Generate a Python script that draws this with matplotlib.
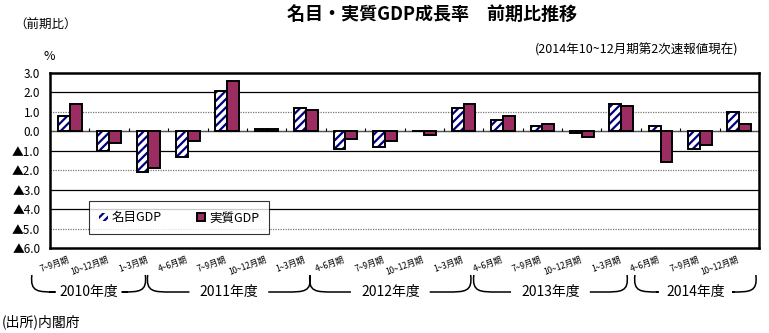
import numpy as np
import matplotlib
matplotlib.use("Agg")
import matplotlib.pyplot as plt
from matplotlib.path import Path
from matplotlib.patches import PathPatch
import matplotlib.transforms as mtransforms

plt.rcParams['font.family'] = ['Noto Sans CJK JP', 'DejaVu Sans']
plt.rcParams['hatch.linewidth'] = 1.6

# quarters (fiscal year 2010 Q3 .. 2014 Q4)
quarters = ["7~9月期", "10~12月期", "1~3月期",
            "4~6月期", "7~9月期", "10~12月期", "1~3月期",
            "4~6月期", "7~9月期", "10~12月期", "1~3月期",
            "4~6月期", "7~9月期", "10~12月期", "1~3月期",
            "4~6月期", "7~9月期", "10~12月期"]
nominal = [0.8, -1.0, -2.1, -1.3, 2.1, 0.1, 1.2, -0.9, -0.8, 0.0,
           1.2, 0.6, 0.3, -0.1, 1.4, 0.3, -0.9, 1.0]
real = [1.4, -0.6, -1.9, -0.5, 2.6, 0.1, 1.1, -0.4, -0.5, -0.2,
        1.4, 0.8, 0.4, -0.3, 1.3, -1.6, -0.7, 0.4]
fiscal_years = ["2010年度", "2011年度", "2012年度", "2013年度", "2014年度"]
yticks = [3, 2, 1, 0, -1, -2, -3, -4, -5, -6]

def ylab(v):
    if v < 0:
        return "▲%.1f" % abs(v)
    return "%.1f" % v

fig = plt.figure(figsize=(7.69, 3.33), dpi=100)
ax = fig.add_axes([50/769, 1-248/333, 709/769, 175/333])

x = np.arange(len(quarters))
w = 0.3
ax.bar(x - w/2, nominal, width=w, color='white', edgecolor='#000080',
       hatch='////', linewidth=0, label='名目GDP', zorder=3)
ax.bar(x - w/2, nominal, width=w, color='none', edgecolor='black',
       linewidth=1.4, zorder=4)
ax.bar(x + w/2, real, width=w, color='#9b2d63', edgecolor='black',
       linewidth=1.4, label='実質GDP', zorder=3)

ax.set_xlim(-0.5, len(quarters) - 0.5)
ax.set_ylim(-6, 3)

# gridlines
for v in yticks[1:-1]:
    if v in (2, -1, -3, -4):
        ax.axhline(v, color='black', lw=0.9, zorder=1)
    else:
        ax.axhline(v, color='#777777', lw=0.9, ls=(0, (1, 1)), zorder=1)
ax.axhline(0, color='#555555', lw=1.0, zorder=2)
# category ticks on the zero line
ax.vlines(x[1:] - 0.5, 0, 0.18, color='black', lw=0.8, zorder=2)

for s in ax.spines.values():
    s.set_linewidth(1.8)
ax.set_yticks(yticks)
ax.set_yticklabels([ylab(v) for v in yticks], fontsize=8.5)
ax.tick_params(axis='y', length=0, pad=7)
ax.set_xticks([])

# rotated quarter labels
lab_tr = mtransforms.blended_transform_factory(ax.transData, fig.transFigure)
for i, q in enumerate(quarters):
    ax.text(i + 0.02, 1 - 263/333, q, transform=lab_tr, fontsize=6,
            rotation=20, rotation_mode='anchor', ha='right', va='bottom')

# fiscal year brackets
spans = [(-0.96, 1.92), (1.98, 6.1), (6.1, 10.18), (10.26, 14.15), (14.35, 17.42)]
y_top = 1 - 275/333
y_bot = 1 - 292/333
for (x0, x1), fy in zip(spans, fiscal_years):
    xm = (x0 + x1) / 2
    verts = [(x0, y_top), (x0 - 0.05, y_bot), (x0 + 0.15, y_bot), (x0 + 0.6, y_bot),
             (xm - 1.0, y_bot)]
    codes = [Path.MOVETO, Path.CURVE4, Path.CURVE4, Path.CURVE4, Path.LINETO]
    fig.add_artist(PathPatch(Path(verts, codes), transform=lab_tr, fill=False,
                             lw=1.1, color='black', clip_on=False))
    verts = [(x1, y_top), (x1 + 0.05, y_bot), (x1 - 0.15, y_bot), (x1 - 0.6, y_bot),
             (xm + 1.0, y_bot)]
    fig.add_artist(PathPatch(Path(verts, codes), transform=lab_tr, fill=False,
                             lw=1.1, color='black', clip_on=False))
    ax.text(xm, y_bot, fy, transform=lab_tr, fontsize=10, ha='center',
            va='center')

leg = ax.legend(loc='center', bbox_to_anchor=(0.182, 0.172), ncol=2,
                fontsize=9, frameon=True, fancybox=False, edgecolor='black',
                handlelength=0.7, handleheight=0.7, handletextpad=0.3,
                columnspacing=2.8, borderpad=0.8)
leg.get_frame().set_linewidth(0.8)
leg.set_zorder(5)

fig.text(287/769, 1 - 14/333, "名目・実質GDP成長率　前期比推移", fontsize=13,
         fontweight='bold', ha='left', va='center')
fig.text(14/769, 1 - 25/333, "（前期比）", fontsize=9, ha='left', va='center')
fig.text(43/769, 1 - 57/333, "%", fontsize=9, ha='left', va='center')
fig.text(738/769, 1 - 50/333, "(2014年10~12月期第2次速報値現在)", fontsize=9,
         ha='right', va='center')
fig.text(2/769, 1 - 322/333, "(出所)内閣府", fontsize=10, ha='left',
         va='center')

fig.savefig("out.png", dpi=100)
